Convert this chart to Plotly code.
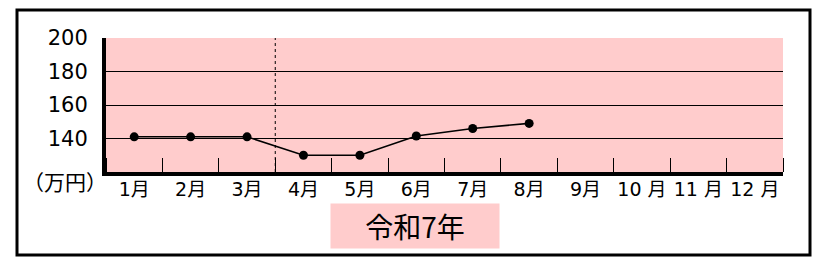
import plotly.graph_objects as go

W, H = 833, 265

months = ["1月", "2月", "3月", "4月", "5月", "6月", "7月", "8月",
          "9月", "10 月", "11 月", "12 月"]
values = [141, 141, 141, 130, 130, 141.5, 146, 149]
y_ticks = [140, 160, 180, 200]
y_range = [120, 200]
year_label = "令和7年"
unit_label = "（万円）"

PINK = "#FFCCCC"
FONT = "DejaVu Sans, Noto Sans CJK JP"
CJK = "Noto Sans CJK JP"

def px(x):
    return x / W

def py(y):
    return 1 - y / H

xs = list(range(1, len(values) + 1))

fig = go.Figure()
fig.add_trace(go.Scatter(
    x=xs, y=values, mode="lines+markers",
    line=dict(color="black", width=1.6),
    marker=dict(color="black", size=9),
    showlegend=False, hoverinfo="skip",
))

fig.update_layout(
    template="none",
    width=W, height=H,
    margin=dict(l=0, r=0, t=0, b=0, pad=0, autoexpand=False),
    paper_bgcolor="white",
    plot_bgcolor=PINK,
    font=dict(family=FONT, color="black"),
    xaxis=dict(
        domain=[px(106), px(783)],
        range=[0.5, len(months) + 0.5],
        automargin=False,
        tickmode="array",
        tickvals=list(range(1, len(months) + 1)),
        ticktext=months,
        ticks="", showgrid=False, zeroline=False,
        showline=True, linecolor="black", linewidth=4,
        tickfont=dict(size=19, family=FONT),
        ticklabelstandoff=-3,
        minor=dict(ticks="inside", tick0=0.5, dtick=1, ticklen=14,
                   tickwidth=1, tickcolor="black", showgrid=False),
        fixedrange=True,
    ),
    yaxis=dict(
        domain=[py(172), py(38)],
        range=y_range,
        automargin=False,
        tickmode="array",
        tickvals=y_ticks,
        ticks="", showgrid=True, gridcolor="black", gridwidth=1,
        zeroline=False,
        showline=True, linecolor="black", linewidth=4,
        tickfont=dict(size=21, family=FONT),
        ticklabelstandoff=10,
        fixedrange=True,
    ),
)

# dotted separator between March and April
fig.add_vline(x=3.5, line=dict(color="black", width=1, dash="dot"))

# outer frame
fig.add_shape(type="rect", xref="paper", yref="paper",
              x0=px(17), x1=px(810), y0=py(255), y1=py(10),
              line=dict(color="black", width=3), fillcolor="rgba(0,0,0,0)",
              layer="above")

# unit label
fig.add_annotation(xref="paper", yref="paper", x=px(65), y=py(181),
                   text=unit_label, showarrow=False,
                   font=dict(size=21, family=CJK), xanchor="center", yanchor="middle")

# year label box
fig.add_annotation(xref="paper", yref="paper", x=px(415), y=py(226),
                   text=year_label, showarrow=False,
                   font=dict(size=28, family=CJK),
                   bgcolor=PINK, width=166, height=42,
                   xanchor="center", yanchor="middle")

fig.write_html("out.html")
